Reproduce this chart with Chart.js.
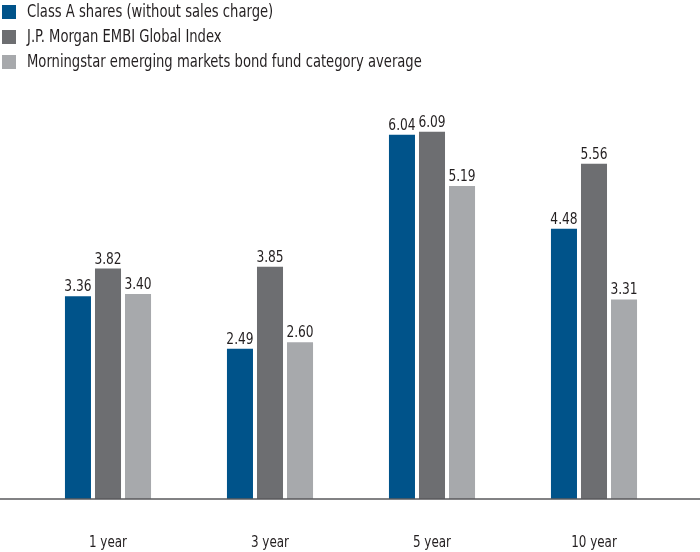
<!DOCTYPE html>
<html>
<head>
<meta charset="utf-8">
<script src="https://cdn.jsdelivr.net/npm/chart.js@4"></script>
<style>
html,body{margin:0;padding:0;background:#fff;}
#wrap{position:relative;width:700px;height:552px;}
</style>
</head>
<body>
<div id="wrap"><canvas id="c" width="700" height="552"></canvas></div>
<script>
const categories = ["1 year", "3 year", "5 year", "10 year"];
const seriesNames = [
  "Class A shares (without sales charge)",
  "J.P. Morgan EMBI Global Index",
  "Morningstar emerging markets bond fund category average"
];
const classA = [3.36, 2.49, 6.04, 4.48];
const embi = [3.82, 3.85, 6.09, 5.56];
const morningstar = [3.40, 2.60, 5.19, 3.31];
const colors = ["#00538a", "#6d6e71", "#a7a9ac"];

const FONT = "'Liberation Sans Narrow', 'DejaVu Sans Condensed', 'Arial Narrow', sans-serif";
const TEXT = "#231f20";

function narrowText(ctx, text, x, y, sx) {
  ctx.save();
  ctx.translate(x, y);
  ctx.scale(sx, 1);
  ctx.fillText(text, 0, 0);
  ctx.restore();
}

const overlay = {
  id: "overlay",
  afterDatasetsDraw(chart) {
    const ctx = chart.ctx;
    const y0 = chart.scales.y.getPixelForValue(0);
    // baseline across full width
    ctx.save();
    ctx.strokeStyle = "#58595b";
    ctx.lineWidth = 1.5;
    ctx.beginPath();
    ctx.moveTo(0, y0);
    ctx.lineTo(chart.width, y0);
    ctx.stroke();
    // value labels
    ctx.fillStyle = TEXT;
    ctx.font = "16px " + FONT;
    ctx.textAlign = "center";
    ctx.textBaseline = "alphabetic";
    chart.data.datasets.forEach((ds, i) => {
      const meta = chart.getDatasetMeta(i);
      meta.data.forEach((bar, j) => {
        narrowText(ctx, ds.data[j].toFixed(2), bar.x, bar.y - 5, 0.85);
      });
    });
    // category labels
    const xs = chart.scales.x;
    ctx.font = "16px " + FONT;
    categories.forEach((c, j) => {
      narrowText(ctx, c, xs.getPixelForValue(j), y0 + 48, 0.83);
    });
    // legend
    ctx.textAlign = "left";
    ctx.textBaseline = "middle";
    ctx.font = "17px " + FONT;
    chart.data.datasets.forEach((ds, i) => {
      const cy = 12 + i * 25;
      ctx.fillStyle = ds.backgroundColor;
      ctx.fillRect(2, cy - 7, 14, 14);
      ctx.fillStyle = TEXT;
      narrowText(ctx, ds.label, 27, cy + 1, 0.86);
    });
    ctx.restore();
  }
};

new Chart(document.getElementById("c"), {
  type: "bar",
  data: {
    labels: categories,
    datasets: [
      { label: seriesNames[0], data: classA, backgroundColor: colors[0] },
      { label: seriesNames[1], data: embi, backgroundColor: colors[1] },
      { label: seriesNames[2], data: morningstar, backgroundColor: colors[2] }
    ]
  },
  options: {
    responsive: false,
    animation: false,
    devicePixelRatio: 1,
    categoryPercentage: 0.556,
    barPercentage: 0.867,
    layout: { padding: { left: 27, right: 25, top: 107, bottom: 53 } },
    plugins: { legend: { display: false }, tooltip: { enabled: false } },
    scales: {
      x: { display: false },
      y: { display: false, min: 0, max: 6.5 }
    }
  },
  plugins: [overlay]
});
</script>
</body>
</html>
